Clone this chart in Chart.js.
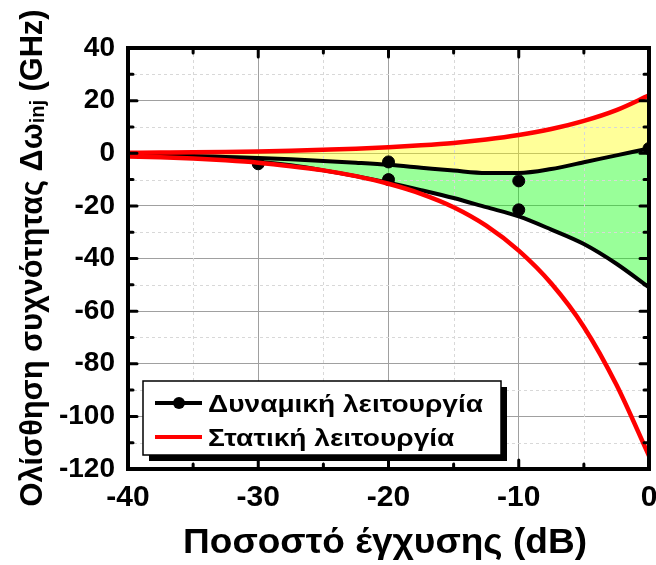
<!DOCTYPE html>
<html>
<head>
<meta charset="utf-8">
<script src="https://cdn.jsdelivr.net/npm/chart.js@4/dist/chart.umd.min.js"></script>
<style>
  html, body { margin: 0; padding: 0; background: #fff; }
  #wrap { width: 656px; height: 565px; }
</style>
</head>
<body>
<div id="wrap"><canvas id="chart" width="656" height="565"></canvas></div>
<script>
// δεδομένα (εκτίμηση από την εικόνα)
const xCurve = [-40, -37.5, -35, -32.5, -30, -27.5, -25, -22.5, -20, -17.5, -15, -12.5, -10, -7.5, -5, -2.5, 0];
const dynUpper = [-0.5, -0.7, -1.0, -1.4, -1.8, -2.3, -2.9, -3.6, -4.4, -5.5, -6.6, -7.5, -7.5, -6.0, -3.4, -0.8, 1.8];
const dynLower = [-0.5, -0.9, -1.4, -2.2, -3.2, -4.6, -6.5, -8.7, -11.2, -14, -17, -20.5, -24, -29, -34.5, -42, -51];
const staticUpper = [0.2, 0.27, 0.35, 0.5, 0.7, 0.95, 1.3, 1.7, 2.3, 3.0, 3.9, 5.2, 6.9, 9.2, 12.3, 16.4, 22];
const staticLower = [-1.2, -1.5, -2.0, -2.7, -3.6, -4.9, -6.5, -8.7, -11.6, -15.4, -20.5, -27.5, -37, -49.5, -66, -88, -115];
const dotX = [-30, -20, -20, -10, -10, 0];
const dotY = [-4, -3.3, -10, -10.5, -21.5, 1.8];
const xTicks = [-40, -30, -20, -10, 0];
const yTicks = [-120, -100, -80, -60, -40, -20, 0, 20, 40];
const legendLabels = ['Δυναμική λειτουργία', 'Στατική λειτουργία'];
const xTitle = 'Ποσοστό έγχυσης (dB)';
const yTitleParts = ['Ολίσθηση συχνότητας Δω', 'inj', ' (GHz)'];

const FONT = '"Liberation Sans", Arial, sans-serif';
const toPts = (xs, ys) => xs.map((x, i) => ({ x: x, y: ys[i] }));

// κείμενο με οριζόντια κλίμακα (τα ελληνικά του πρωτοτύπου είναι πιο φαρδιά)
function wideText(ctx, text, x, y, sx) {
    ctx.save();
    ctx.translate(x, y);
    ctx.scale(sx, 1);
    ctx.fillText(text, 0, 0);
    ctx.restore();
}

// πλαίσιο, εσωτερικά tick, δευτερεύον πλέγμα, υπόμνημα, τίτλοι αξόνων
const framePlugin = {
    id: 'frame',
    beforeDatasetsDraw(chart) {
        const { ctx, chartArea: a, scales: { x, y } } = chart;
        ctx.save();
        ctx.strokeStyle = '#d8d8d8';
        ctx.lineWidth = 1;
        ctx.setLineDash([3, 3]);
        for (let v = -35; v < 0; v += 10) {
            const px = Math.round(x.getPixelForValue(v)) + 0.5;
            ctx.beginPath(); ctx.moveTo(px, a.top); ctx.lineTo(px, a.bottom); ctx.stroke();
        }
        for (let v = -110; v < 40; v += 20) {
            const py = Math.round(y.getPixelForValue(v)) + 0.5;
            ctx.beginPath(); ctx.moveTo(a.left, py); ctx.lineTo(a.right, py); ctx.stroke();
        }
        ctx.restore();
    },
    afterDraw(chart) {
        const { ctx, chartArea: a, scales: { x, y } } = chart;
        ctx.save();
        // ticks προς τα μέσα
        ctx.strokeStyle = '#000';
        ctx.lineWidth = 3;
        ctx.lineCap = 'round';
        for (let v = -40; v <= 0; v += 5) {
            const px = x.getPixelForValue(v);
            const len = v % 10 === 0 ? 9 : 5;
            ctx.beginPath();
            ctx.moveTo(px, a.bottom); ctx.lineTo(px, a.bottom - len);
            ctx.moveTo(px, a.top); ctx.lineTo(px, a.top + len);
            ctx.stroke();
        }
        for (let v = -120; v <= 40; v += 10) {
            const py = y.getPixelForValue(v);
            const len = v % 20 === 0 ? 9 : 5;
            ctx.beginPath();
            ctx.moveTo(a.left, py); ctx.lineTo(a.left + len, py);
            ctx.moveTo(a.right, py); ctx.lineTo(a.right - len, py);
            ctx.stroke();
        }
        // πλαίσιο
        ctx.lineCap = 'butt';
        ctx.lineWidth = 4;
        ctx.strokeRect(a.left, a.top, a.right - a.left, a.bottom - a.top);

        // υπόμνημα
        const bx = 143, by = 381, bw = 358, bh = 74;
        ctx.fillStyle = '#000';
        ctx.fillRect(bx + 6, by + 6, bw, bh);
        ctx.fillStyle = '#fff';
        ctx.fillRect(bx, by, bw, bh);
        ctx.lineWidth = 1.5;
        ctx.strokeStyle = '#000';
        ctx.strokeRect(bx, by, bw, bh);

        const rows = [by + 22, by + 56];
        ctx.lineWidth = 4;
        ctx.strokeStyle = '#000';
        ctx.beginPath(); ctx.moveTo(155, rows[0]); ctx.lineTo(202, rows[0]); ctx.stroke();
        ctx.fillStyle = '#000';
        ctx.beginPath(); ctx.arc(179, rows[0], 6, 0, Math.PI * 2); ctx.fill();
        ctx.strokeStyle = '#ff0000';
        ctx.beginPath(); ctx.moveTo(155, rows[1]); ctx.lineTo(202, rows[1]); ctx.stroke();

        ctx.fillStyle = '#000';
        ctx.font = 'bold 24px ' + FONT;
        ctx.textBaseline = 'alphabetic';
        ctx.textAlign = 'left';
        const legSx = 275 / ctx.measureText(legendLabels[0]).width;
        wideText(ctx, legendLabels[0], 208, rows[0] + 9, legSx);
        wideText(ctx, legendLabels[1], 208, rows[1] + 9, legSx);

        // τίτλος άξονα x
        ctx.font = 'bold 35px ' + FONT;
        const xw = ctx.measureText(xTitle).width;
        const xSx = 404 / xw;
        wideText(ctx, xTitle, 385 - xw * xSx / 2, 553, xSx);

        // τίτλος άξονα y με δείκτη "inj"
        const big = 'bold 31px ' + FONT;
        const small = 'bold 20px ' + FONT;
        ctx.font = big;
        const w1 = ctx.measureText(yTitleParts[0]).width;
        const w3 = ctx.measureText(yTitleParts[2]).width;
        ctx.font = small;
        const w2 = ctx.measureText(yTitleParts[1]).width;
        const total = w1 + w2 + w3;
        const ySx = 497 / total;
        ctx.translate(42, 258);
        ctx.rotate(-Math.PI / 2);
        ctx.scale(ySx, 1);
        let cx = -total / 2;
        ctx.font = big;
        ctx.fillText(yTitleParts[0], cx, 0);
        cx += w1;
        ctx.font = small;
        ctx.fillText(yTitleParts[1], cx, 2);
        cx += w2;
        ctx.font = big;
        ctx.fillText(yTitleParts[2], cx, 0);
        ctx.restore();
    }
};

const ctx = document.getElementById('chart').getContext('2d');
const chart = new Chart(ctx, {
    type: 'line',
    data: {
        datasets: [
            {
                label: legendLabels[0],
                data: toPts(xCurve, dynUpper),
                borderColor: '#000',
                borderWidth: 4,
                pointRadius: 0,
                cubicInterpolationMode: 'monotone',
                fill: 1,
                backgroundColor: 'rgba(0, 255, 0, 0.4)',
                order: 4
            },
            {
                label: 'dynLower',
                data: toPts(xCurve, dynLower),
                borderColor: '#000',
                borderWidth: 4,
                pointRadius: 0,
                cubicInterpolationMode: 'monotone',
                fill: false,
                order: 4
            },
            {
                label: legendLabels[1],
                data: toPts(xCurve, staticUpper),
                borderColor: '#ff0000',
                borderWidth: 4.5,
                pointRadius: 0,
                cubicInterpolationMode: 'monotone',
                fill: 0,
                backgroundColor: 'rgba(255, 255, 0, 0.4)',
                order: 1
            },
            {
                label: 'staticLower',
                data: toPts(xCurve, staticLower),
                borderColor: '#ff0000',
                borderWidth: 4.5,
                pointRadius: 0,
                cubicInterpolationMode: 'monotone',
                fill: false,
                order: 1
            },
            {
                type: 'scatter',
                label: 'points',
                data: toPts(dotX, dotY),
                showLine: false,
                pointRadius: 6,
                pointBackgroundColor: '#000',
                pointBorderColor: '#000',
                order: 2
            }
        ]
    },
    options: {
        responsive: false,
        animation: false,
        events: [],
        layout: { padding: { top: 48, right: 7, left: 0, bottom: 0 } },
        plugins: {
            legend: { display: false },
            tooltip: { enabled: false },
            filler: { drawTime: 'beforeDatasetsDraw' }
        },
        scales: {
            x: {
                type: 'linear',
                min: -40,
                max: 0,
                afterBuildTicks: s => { s.ticks = xTicks.map(v => ({ value: v })); },
                afterFit: s => { s.height = 96; s.paddingLeft = 0; s.paddingRight = 0; },
                grid: { color: '#a0a0a0', lineWidth: 1, drawTicks: false },
                border: { display: false },
                ticks: {
                    color: '#000',
                    padding: 11,
                    maxRotation: 0,
                    autoSkip: false,
                    font: { family: FONT, size: 30, weight: 'bold' }
                },
                title: { display: false }
            },
            y: {
                min: -120,
                max: 40,
                afterBuildTicks: s => { s.ticks = yTicks.map(v => ({ value: v })); },
                afterFit: s => { s.width = 128; },
                grid: { color: '#a0a0a0', lineWidth: 1, drawTicks: false },
                border: { display: false },
                ticks: {
                    color: '#000',
                    padding: 13,
                    autoSkip: false,
                    font: { family: FONT, size: 28, weight: 'bold' }
                },
                title: { display: false }
            }
        }
    },
    plugins: [framePlugin]
});
</script>
</body>
</html>
